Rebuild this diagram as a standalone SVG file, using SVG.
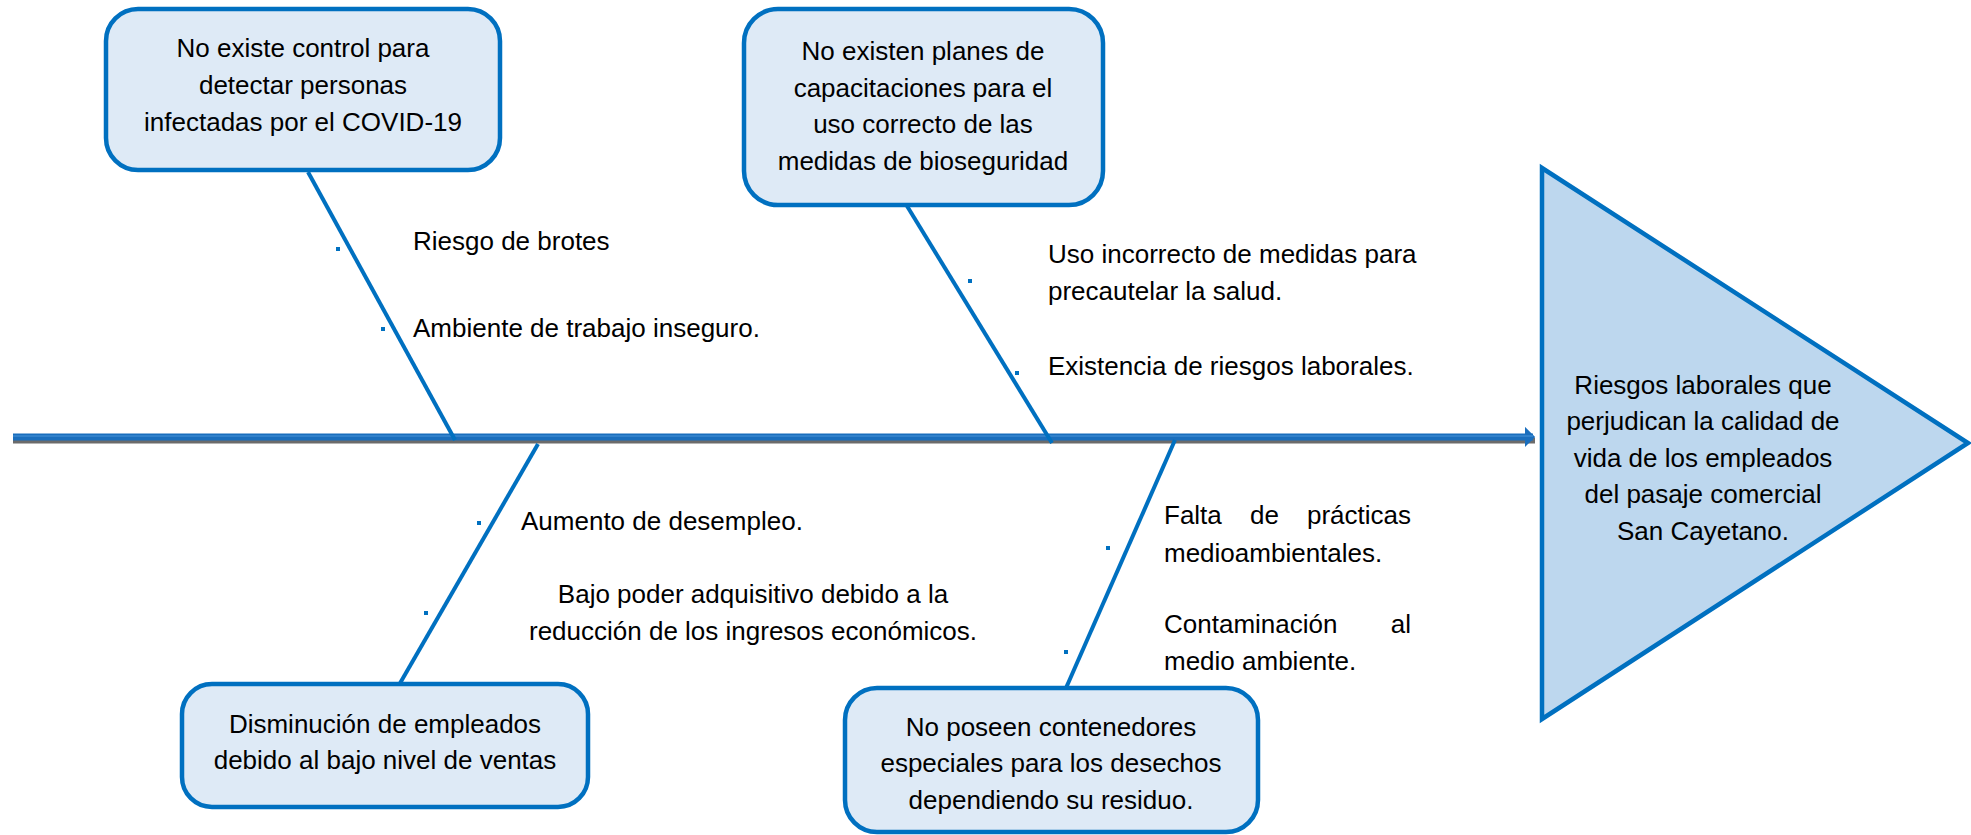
<svg xmlns="http://www.w3.org/2000/svg" width="1971" height="835" viewBox="0 0 1971 835">
<style>
text{font-family:"Liberation Sans",Arial,sans-serif;font-size:26px;fill:#000}
.box{fill:#DEEAF6;stroke:#0070C0;stroke-width:4.5}
.bone{stroke:#0070C0;stroke-width:4;fill:none}
.dot{fill:#0070C0}
.c{text-anchor:middle}
</style>
<defs>
<marker id="ah" markerWidth="3" markerHeight="3" refX="1.2" refY="1.5" orient="auto" markerUnits="strokeWidth">
<path d="M0,0 L1.5,1.5 L0,3 Z" fill="#1A6EBD"/>
</marker>
</defs>
<rect width="1971" height="835" fill="#fff"/>

<g id="connectors">
<line x1="13" y1="440.5" x2="1535" y2="440.5" stroke="#6b6b6b" stroke-width="6"/>
<line x1="13" y1="437" x2="1533" y2="437" stroke="#1A6EBD" stroke-width="7" marker-end="url(#ah)"/>
<line x1="13" y1="436" x2="1533" y2="436" stroke="#3A88D0" stroke-width="1.5"/>
<line class="bone" x1="308" y1="172" x2="455" y2="440"/>
<line class="bone" x1="907" y1="206" x2="1052" y2="443"/>
<line class="bone" x1="538" y1="444" x2="399" y2="685"/>
<line class="bone" x1="1175" y1="440" x2="1066" y2="688"/>
<rect class="dot" x="336" y="247" width="4" height="4"/>
<rect class="dot" x="381" y="327" width="4" height="4"/>
<rect class="dot" x="968" y="279" width="4" height="4"/>
<rect class="dot" x="1015" y="371" width="4" height="4"/>
<rect class="dot" x="477" y="521" width="4" height="4"/>
<rect class="dot" x="424" y="611" width="4" height="4"/>
<rect class="dot" x="1106" y="546" width="4" height="4"/>
<rect class="dot" x="1064" y="650" width="4" height="4"/>
</g>

<g id="labels">
<text x="413" y="250">Riesgo de brotes</text>
<text x="413" y="337">Ambiente de trabajo inseguro.</text>
<text x="1048" y="263">Uso incorrecto de medidas para</text>
<text x="1048" y="300">precautelar la salud.</text>
<text x="1048" y="375">Existencia de riesgos laborales.</text>
<text x="521" y="530">Aumento de desempleo.</text>
<text class="c" x="753" y="603">Bajo poder adquisitivo debido a la</text>
<text class="c" x="753" y="640">reducción de los ingresos económicos.</text>
<text x="1164" y="524">Falta</text>
<text x="1250" y="524">de</text>
<text x="1411" y="524" text-anchor="end">prácticas</text>
<text x="1164" y="562">medioambientales.</text>
<text x="1164" y="633">Contaminación</text>
<text x="1411" y="633" text-anchor="end">al</text>
<text x="1164" y="670">medio ambiente.</text>
</g>

<g id="cause1">
<rect class="box" x="106" y="9" width="394" height="161" rx="32"/>
<text class="c" x="303" y="57">No existe control para</text>
<text class="c" x="303" y="94">detectar personas</text>
<text class="c" x="303" y="131">infectadas por el COVID-19</text>
</g>

<g id="cause2">
<rect class="box" x="744" y="9" width="359" height="196" rx="34"/>
<text class="c" x="923" y="60">No existen planes de</text>
<text class="c" x="923" y="97">capacitaciones para el</text>
<text class="c" x="923" y="133">uso correcto de las</text>
<text class="c" x="923" y="170">medidas de bioseguridad</text>
</g>

<g id="cause3">
<rect class="box" x="182" y="684" width="406" height="123" rx="30"/>
<text class="c" x="385" y="733">Disminución de empleados</text>
<text class="c" x="385" y="769">debido al bajo nivel de ventas</text>
</g>

<g id="cause4">
<rect class="box" x="845" y="688" width="413" height="144" rx="32"/>
<text class="c" x="1051" y="736">No poseen contenedores</text>
<text class="c" x="1051" y="772">especiales para los desechos</text>
<text class="c" x="1051" y="809">dependiendo su residuo.</text>
</g>

<g id="effect">
<polygon points="1542,168 1968,443 1542,719" fill="#BDD7EE" stroke="#0070C0" stroke-width="4.5" stroke-linejoin="miter"/>
<text class="c" x="1703" y="394">Riesgos laborales que</text>
<text class="c" x="1703" y="430">perjudican la calidad de</text>
<text class="c" x="1703" y="467">vida de los empleados</text>
<text class="c" x="1703" y="503">del pasaje comercial</text>
<text class="c" x="1703" y="540">San Cayetano.</text>
</g>
</svg>
